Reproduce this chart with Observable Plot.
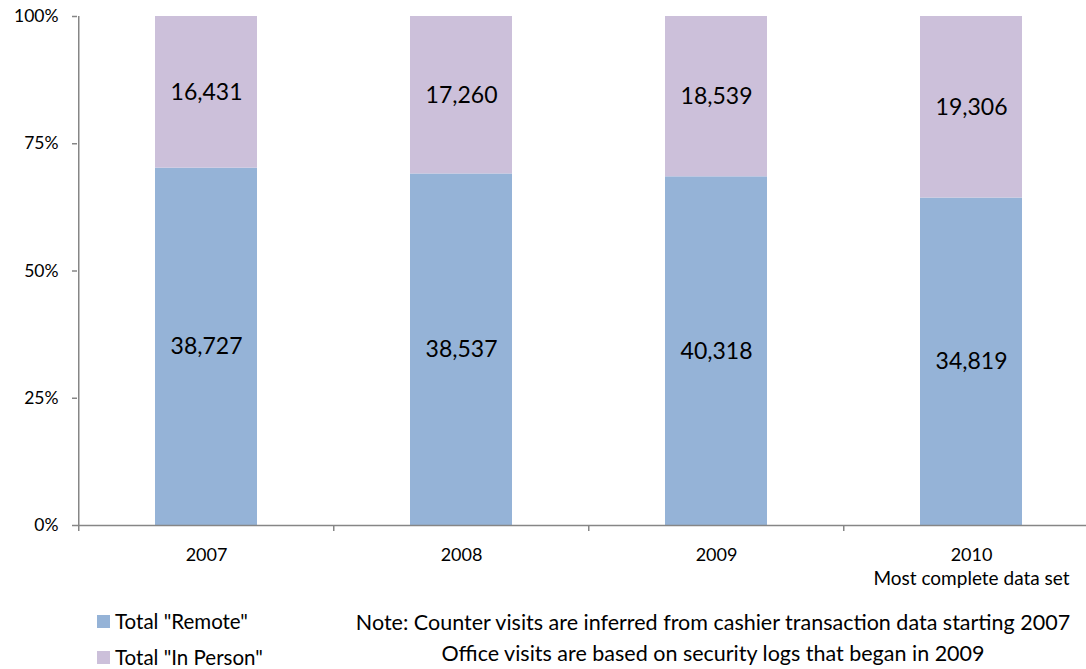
<!DOCTYPE html>
<html>
<head>
<meta charset="utf-8">
<script src="https://cdn.jsdelivr.net/npm/d3@7"></script>
<script src="https://cdn.jsdelivr.net/npm/@observablehq/plot@0.6"></script>
<style>
  html, body { margin: 0; padding: 0; background: #fff; overflow: hidden; }
  #wrap { position: relative; width: 1086px; height: 669px; font-family: Lato, "Open Sans", sans-serif; color: #000; }
  .legend { position: absolute; left: 97px; font-size: 20.5px; line-height: 18px; }
  .legend .item { display: flex; align-items: center; height: 18px; }
  .legend .sw { width: 13px; height: 13px; margin-right: 5px; }
  .note { position: absolute; left: 340px; width: 746px; text-align: center; font-size: 21.5px; line-height: 31px; top: 607px; }
</style>
</head>
<body>
<div id="wrap">
  <div id="chart"></div>
  <div class="legend" id="legend" style="top:612px"></div>
  <div class="note" id="note"></div>
</div>
<script>
const years = ["2007", "2008", "2009", "2010"];
const remote = [38727, 38537, 40318, 34819];
const inPerson = [16431, 17260, 18539, 19306];
const seriesNames = ['Total "Remote"', 'Total "In Person"'];
const seriesColors = ["#95B3D7", "#CCC0DA"];
const yTicks = [0, 0.25, 0.5, 0.75, 1];
const subLabel = "Most complete data set";
const noteLines = [
  "Note: Counter visits are inferred from cashier transaction data starting 2007",
  "Office visits are based on security logs that began in 2009"
];

const rows = [];
years.forEach((y, i) => {
  rows.push({year: y, type: seriesNames[0], value: remote[i]});
  rows.push({year: y, type: seriesNames[1], value: inPerson[i]});
});

const xRange = [77, 1099];
const step = (xRange[1] - xRange[0]) / years.length;
const fmt = d3.format(",");
const axisColor = "#868686";

const chart = Plot.plot({
  width: 1086,
  height: 590,
  marginTop: 16,
  marginBottom: 65,
  marginLeft: 77,
  marginRight: 0,
  style: {fontFamily: "Lato, 'Open Sans', sans-serif", fontSize: "16px", color: "#000", background: "#fff", overflow: "visible"},
  x: {type: "band", domain: years, range: xRange, paddingInner: 0.6, paddingOuter: 0.3, label: null},
  y: {domain: [0, 1], label: null},
  color: {domain: seriesNames, range: seriesColors},
  marks: [
    Plot.barY(rows, Plot.stackY({x: "year", y: "value", fill: "type", offset: "normalize"})),
    Plot.text(rows, Plot.stackY({x: "year", y: "value", offset: "normalize", text: d => fmt(d.value), fontSize: 23, fill: "#000"})),
    Plot.ruleY([0], {stroke: axisColor, strokeWidth: 1.5}),
    Plot.ruleX([years[0]], {x: d => d, dx: -step / 2, y1: 0, y2: 1, stroke: axisColor, strokeWidth: 1.5}),
    Plot.axisY({ticks: yTicks, tickFormat: d3.format(".0%"), tickSize: 5, tickPadding: 14, stroke: axisColor, strokeWidth: 1.5, fontSize: 17.5, label: null}),
    Plot.axisX({tickSize: 6, tickFormat: () => "", dx: -step / 2, stroke: axisColor, strokeWidth: 1.5, label: null}),
    Plot.axisX({tickSize: 0, tickPadding: 23, fontSize: 18, label: null}),
    Plot.text([years[3]], {x: d => d, y: 0, dy: 53, text: () => subLabel, fontSize: 19, fill: "#000"})
  ]
});
document.getElementById("chart").appendChild(chart);

const legend = document.getElementById("legend");
seriesNames.forEach((name, i) => {
  const item = document.createElement("div");
  item.className = "item";
  item.style.marginBottom = i === 0 ? "18px" : "0";
  const sw = document.createElement("span");
  sw.className = "sw";
  sw.style.background = seriesColors[i];
  const t = document.createElement("span");
  t.textContent = name;
  item.appendChild(sw);
  item.appendChild(t);
  legend.appendChild(item);
});
const note = document.getElementById("note");
noteLines.forEach(l => {
  const d = document.createElement("div");
  d.textContent = l;
  note.appendChild(d);
});
</script>
</body>
</html>
